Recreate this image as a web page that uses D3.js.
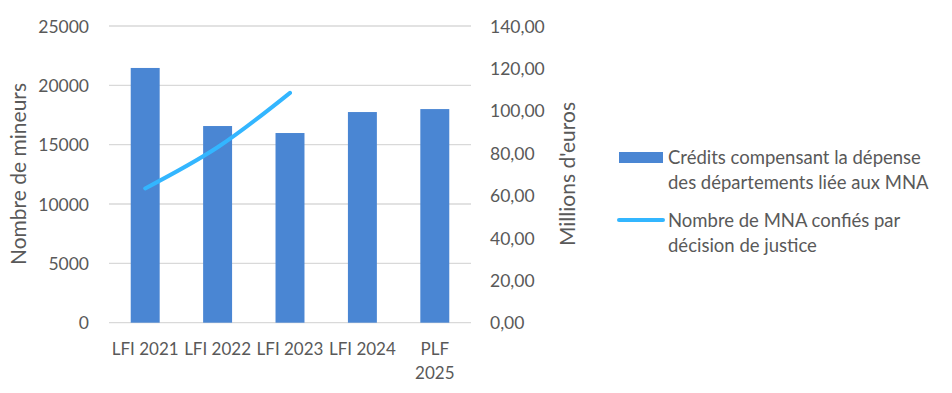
<!DOCTYPE html>
<html><head><meta charset="utf-8">
<script src="https://cdn.jsdelivr.net/npm/d3@7"></script>
<style>body{margin:0;background:#fff}svg{display:block}text{font-family:Lato,"Liberation Sans",sans-serif;fill:#595959}</style>
</head><body><svg id="c" width="952" height="393"></svg>
<script>
const categories = ["LFI 2021","LFI 2022","LFI 2023","LFI 2024","PLF 2025"];
const credits = [120.2, 92.8, 89.5, 99.4, 100.8];      // millions d'euros (right axis)
const mnaCategories = ["LFI 2021","LFI 2022","LFI 2023"];
const mna = [11315, 14782, 19370];                      // nombre de mineurs (left axis)
const leftTicks = [0,5000,10000,15000,20000,25000];
const rightTicks = [0,20,40,60,80,100,120,140];
const legendLabels = [["Crédits compensant la dépense","des départements liée aux MNA"],["Nombre de MNA confiés par","décision de justice"]];

const svg = d3.select("#c");
const L = 109, R = 471, T = 26, B = 322.7;
const x = d3.scaleBand().domain(categories).range([L,R]).paddingInner(0.6).paddingOuter(0.3);
const yL = d3.scaleLinear().domain([0,25000]).range([B,T]);
const yR = d3.scaleLinear().domain([0,140]).range([B,T]);

// gridlines
svg.append("g").selectAll("line").data(leftTicks).join("line")
  .attr("x1",L).attr("x2",R).attr("y1",d=>yL(d)).attr("y2",d=>yL(d))
  .attr("stroke","#d9d9d9").attr("stroke-width",1.3);

// bars
svg.append("g").selectAll("rect").data(credits).join("rect")
  .attr("x",(d,i)=>x(categories[i])).attr("width",x.bandwidth())
  .attr("y",d=>yR(d)).attr("height",d=>B-yR(d)).attr("fill","#4a86d3");

// line
const line = d3.line().x((d,i)=>x(mnaCategories[i])+x.bandwidth()/2).y(d=>yL(d)).curve(d3.curveCatmullRom.alpha(0.5));
svg.append("path").datum(mna).attr("d",line).attr("fill","none")
  .attr("stroke","#33b6ff").attr("stroke-width",4).attr("stroke-linecap","round");

// left axis
const axL = svg.append("g").attr("transform",`translate(${L-20},0)`)
  .call(d3.axisLeft(yL).tickValues(leftTicks).tickSize(0).tickFormat(d3.format("d")));
axL.select(".domain").remove();
axL.selectAll("text").attr("font-size",17.5).attr("dy","0.35em").attr("x",0).style("fill","#595959");

// right axis
const axR = svg.append("g").attr("transform",`translate(490,0)`)
  .call(d3.axisRight(yR).tickValues(rightTicks).tickSize(0).tickFormat(d=>d3.format(".2f")(d).replace(".",",")));
axR.select(".domain").remove();
axR.selectAll("text").attr("font-size",17.5).attr("dy","0.35em").attr("x",0).style("fill","#595959");

// x labels
categories.forEach(c=>{
  const parts = c.startsWith("PLF") ? c.split(" ") : [c];
  const t = svg.append("text").attr("text-anchor","middle").attr("font-size",17)
    .attr("x",x(c)+x.bandwidth()/2).attr("y",355);
  parts.forEach((p,j)=>t.append("tspan").attr("x",x(c)+x.bandwidth()/2).attr("dy",j?24:0).text(p));
});

// axis titles
svg.append("text").attr("transform","translate(26,174) rotate(-90)").attr("text-anchor","middle")
  .attr("font-size",21).text("Nombre de mineurs");
svg.append("text").attr("transform","translate(575,174) rotate(-90)").attr("text-anchor","middle")
  .attr("font-size",21).text("Millions d'euros");

// legend
const lg = svg.append("g");
lg.append("rect").attr("x",619).attr("y",152).attr("width",44).attr("height",11).attr("fill","#4a86d3");
lg.append("line").attr("x1",619).attr("x2",663).attr("y1",220).attr("y2",220).attr("stroke","#33b6ff").attr("stroke-width",4).attr("stroke-linecap","round");
legendLabels.forEach((lines,i)=>{
  const t = lg.append("text").attr("font-size",18.5).attr("x",668).attr("y",[157,220][i]);
  lines.forEach((s,j)=>t.append("tspan").attr("x",668).attr("dy",j?25:6.5).text(s));
});
</script></body></html>
